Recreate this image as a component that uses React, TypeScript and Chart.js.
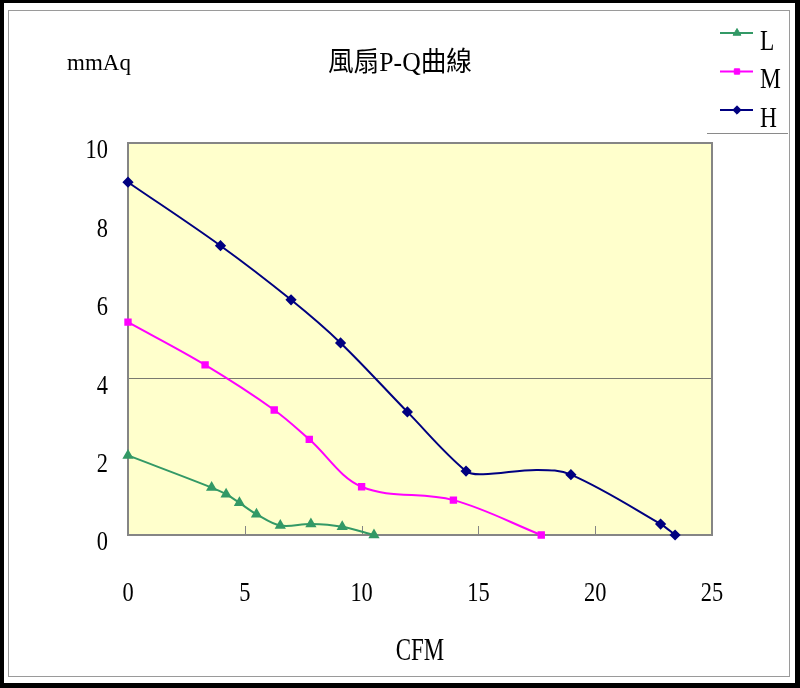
import React, { useEffect, useRef } from 'react';
import { Chart, registerables } from 'chart.js';
import { drawPoint } from 'chart.js/helpers';

Chart.register(...registerables);

// ---- Text ----
const titleText = '風扇P-Q曲線';
const yUnit = 'mmAq';
const xUnit = 'CFM';
const seriesNames = ['L', 'M', 'H'];

// ---- Series data (Q = CFM, P = mmAq) ----
const lQ = [0, 3.58, 4.2, 4.77, 5.5, 6.52, 7.83, 9.17, 10.53];
const lP = [2.03, 1.21, 1.04, 0.82, 0.53, 0.24, 0.28, 0.21, 0];

const mQ = [0, 3.3, 6.26, 7.76, 10.0, 13.93, 17.69];
const mP = [5.43, 4.34, 3.19, 2.44, 1.23, 0.89, 0];

const hQ = [0, 3.96, 6.98, 9.1, 11.96, 14.47, 15.2, 17.5, 18.96, 22.8, 23.42];
const hP = [9.0, 7.38, 6.0, 4.9, 3.14, 1.63, 1.55, 1.66, 1.54, 0.28, 0];
const hMarked = [true, true, true, true, true, true, false, false, true, true, true];

// ---- Axis ranges ----
const xMin = 0, xMax = 25, xStep = 5;
const yMin = 0, yMax = 10, yStep = 2;
const gridValue = 4;

const SERIF = '"Liberation Serif", "Times New Roman", "Noto Sans CJK TC", serif';

function text(ctx: CanvasRenderingContext2D, s: string, x: number, y: number, size: number, align: CanvasTextAlign, sx: number, baseline: CanvasTextBaseline = 'middle') {
  ctx.save();
  ctx.translate(x, y);
  ctx.scale(sx, 1);
  ctx.font = `${size}px ${SERIF}`;
  ctx.fillStyle = '#000';
  ctx.textAlign = align;
  ctx.textBaseline = baseline;
  ctx.fillText(s, 0, 0);
  ctx.restore();
}

const decorPlugin = {
  id: 'decor',
  beforeDraw(chart: any) {
    const { ctx, width, height, chartArea: a } = chart;
    ctx.save();
    ctx.fillStyle = '#000';
    ctx.fillRect(0, 0, width, height);
    ctx.fillStyle = '#fff';
    ctx.fillRect(4, 3, width - 9, height - 8);
    ctx.strokeStyle = '#9a9a9a';
    ctx.lineWidth = 1;
    ctx.strokeRect(8.5, 10.5, 781, 666);
    ctx.fillStyle = '#FFFFCC';
    ctx.fillRect(a.left, a.top, a.right - a.left, a.bottom - a.top);
    ctx.restore();
  },
  beforeDatasetsDraw(chart: any) {
    const { ctx, chartArea: a, scales } = chart;
    ctx.save();
    ctx.strokeStyle = '#858585';
    ctx.lineWidth = 2;
    ctx.strokeRect(a.left, a.top, a.right - a.left, a.bottom - a.top);
    ctx.lineWidth = 1;
    for (const t of scales.x.ticks) {
      if (t.value > xMin && t.value < xMax) {
        const px = Math.round(scales.x.getPixelForValue(t.value)) + 0.5;
        ctx.beginPath();
        ctx.moveTo(px, a.bottom);
        ctx.lineTo(px, a.bottom - 9);
        ctx.stroke();
      }
    }
    ctx.restore();
  },
  afterDraw(chart: any) {
    const { ctx, chartArea: a, scales } = chart;
    // tick labels
    for (const t of scales.y.ticks) {
      text(ctx, String(t.value), a.left - 20, scales.y.getPixelForValue(t.value) + 8, 28, 'right', 0.8);
    }
    for (const t of scales.x.ticks) {
      text(ctx, String(t.value), scales.x.getPixelForValue(t.value), 594, 28, 'center', 0.8);
    }
    // axis titles and chart title
    text(ctx, xUnit, (a.left + a.right) / 2, 652, 31, 'center', 0.74);
    text(ctx, yUnit, 67, 70, 23, 'left', 1, 'alphabetic');
    text(ctx, titleText, 400, 64, 27, 'center', 0.95);
    // legend
    chart.data.datasets.forEach((ds: any, i: number) => {
      const ly = 33 + i * 38.5;
      ctx.save();
      ctx.strokeStyle = ds.borderColor;
      ctx.fillStyle = ds.borderColor;
      ctx.lineWidth = 2;
      ctx.beginPath();
      ctx.moveTo(720, ly);
      ctx.lineTo(753, ly);
      ctx.stroke();
      ctx.lineWidth = 1;
      drawPoint(ctx, { pointStyle: ds.pointStyle, radius: ds.legendRadius, rotation: 0, borderWidth: 1 }, 737, ly);
      ctx.restore();
      text(ctx, ds.label, 760, ly + 9, 30, 'left', 0.78);
    });
    ctx.save();
    ctx.strokeStyle = '#8a8a8a';
    ctx.lineWidth = 1;
    ctx.beginPath();
    ctx.moveTo(707, 133.5);
    ctx.lineTo(788, 133.5);
    ctx.stroke();
    ctx.restore();
  },
};

function pts(q: number[], p: number[]) {
  return q.map((x, i) => ({ x, y: p[i] }));
}

export default function App() {
  const ref = useRef<HTMLCanvasElement | null>(null);
  useEffect(() => {
    if (!ref.current) return;
    const chart = new Chart(ref.current, {
      type: 'line',
      data: {
        datasets: [
          {
            label: seriesNames[0],
            data: pts(lQ, lP),
            borderColor: '#339966',
            backgroundColor: '#339966',
            borderWidth: 2,
            pointStyle: 'triangle',
            pointRadius: 4.5,
            legendRadius: 4.5,
            tension: 0.35,
            clip: false,
          } as any,
          {
            label: seriesNames[1],
            data: pts(mQ, mP),
            borderColor: '#FF00FF',
            backgroundColor: '#FF00FF',
            borderWidth: 2,
            pointStyle: 'rect',
            pointRadius: 3.8,
            legendRadius: 3.8,
            tension: 0.35,
            clip: false,
          } as any,
          {
            label: seriesNames[2],
            data: pts(hQ, hP),
            borderColor: '#000080',
            backgroundColor: '#000080',
            borderWidth: 2,
            pointStyle: 'rectRot',
            pointRadius: hMarked.map((m) => (m ? 4.2 : 0)),
            legendRadius: 4.2,
            tension: 0.35,
            clip: false,
          } as any,
        ],
      },
      options: {
        responsive: false,
        devicePixelRatio: 1,
        animation: false,
        events: [],
        layout: { padding: { top: 143, right: 88, left: 0, bottom: 0 } },
        plugins: { legend: { display: false }, tooltip: { enabled: false }, title: { display: false } },
        scales: {
          x: {
            type: 'linear',
            min: xMin,
            max: xMax,
            ticks: { display: false, stepSize: xStep },
            grid: { display: false },
            border: { display: false },
            afterFit: (s: any) => { s.height = 153; },
          },
          y: {
            type: 'linear',
            min: yMin,
            max: yMax,
            ticks: { display: false, stepSize: yStep },
            grid: {
              drawTicks: false,
              lineWidth: 1,
              color: (c: any) => (c.tick && c.tick.value === gridValue ? '#7a7a70' : 'rgba(0,0,0,0)'),
            },
            border: { display: false },
            afterFit: (s: any) => { s.width = 128; },
          },
        },
      } as any,
      plugins: [decorPlugin],
    });
    return () => chart.destroy();
  }, []);
  return (
    <div style={{ position: 'fixed', left: 0, top: 0, width: 800, height: 688 }}>
      <canvas ref={ref} width={800} height={688} style={{ display: 'block', width: 800, height: 688 }} />
    </div>
  );
}
